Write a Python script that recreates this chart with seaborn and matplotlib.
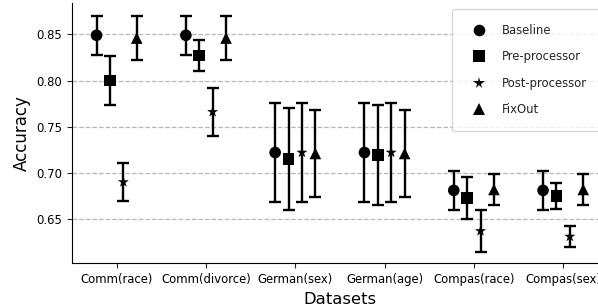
import matplotlib
matplotlib.use("Agg")
import matplotlib.pyplot as plt
import seaborn as sns
import numpy as np
import pandas as pd

datasets = ["Comm(race)", "Comm(divorce)", "German(sex)", "German(age)", "Compas(race)", "Compas(sex)"]
methods = ["Baseline", "Pre-processor", "Post-processor", "FixOut"]

baseline_mean = [0.849, 0.849, 0.722, 0.722, 0.681, 0.681]
baseline_err = [0.021, 0.021, 0.0537, 0.0537, 0.021, 0.021]
pre_mean = [0.800, 0.827, 0.715, 0.719, 0.673, 0.675]
pre_err = [0.0265, 0.0165, 0.055, 0.054, 0.023, 0.0145]
post_mean = [0.690, 0.766, 0.722, 0.722, 0.637, 0.631]
post_err = [0.021, 0.026, 0.0537, 0.0537, 0.0225, 0.011]
fixout_mean = [0.846, 0.846, 0.721, 0.721, 0.682, 0.682]
fixout_err = [0.0235, 0.0235, 0.047, 0.047, 0.0165, 0.0165]

means = [baseline_mean, pre_mean, post_mean, fixout_mean]
errs = [baseline_err, pre_err, post_err, fixout_err]

offsets = [-0.225, -0.075, 0.075, 0.225]
marker_map = {"Baseline": "o", "Pre-processor": "s", "Post-processor": "*", "FixOut": "^"}

rows = []
for mi, m in enumerate(methods):
    for di, d in enumerate(datasets):
        rows.append({"dataset": d, "method": m, "x": di + offsets[mi],
                     "acc": means[mi][di], "err": errs[mi][di]})
df = pd.DataFrame(rows)

sns.set_style("ticks", {"axes.grid": True, "grid.linestyle": "--"})
plt.rcParams["font.family"] = ["DejaVu Sans"]

fig = plt.figure(figsize=(5.98, 3.07), dpi=100)
ax = fig.add_axes([0.1204, 0.1423, 0.896, 0.848])

for m in methods:
    sub = df[df["method"] == m]
    ax.errorbar(sub["x"], sub["acc"], yerr=sub["err"], fmt="none",
                ecolor="black", elinewidth=1.7, capsize=4.3, capthick=1.7, zorder=2)

sns.scatterplot(data=df, x="x", y="acc", style="method", markers=marker_map,
                style_order=methods, color="black", s=70, linewidth=0,
                ax=ax, zorder=3, legend=True)

handles, labels = ax.get_legend_handles_labels()
ax.legend(handles, labels, loc="upper right", fontsize=8.4, borderpad=1.3,
          labelspacing=1.15, handletextpad=0.93, title=None, frameon=True)

ax.set_xticks(range(len(datasets)))
ax.set_xticklabels(datasets, fontsize=8.4, color="black")
ax.tick_params(axis="y", labelsize=8.4, labelcolor="black")
ax.set_xlim(-0.5, len(datasets) - 0.5)
ax.set_yticks([0.65, 0.70, 0.75, 0.80, 0.85])
ax.set_yticklabels(["0.65", "0.70", "0.75", "0.80", "0.85"])
ax.set_ylim(0.602, 0.884)
ax.grid(axis="x", visible=False)
ax.grid(axis="y", color="#b8b8b8", linestyle="--", linewidth=0.9)
ax.set_xlabel("Datasets", fontsize=11.8, color="black")
ax.set_ylabel("Accuracy", fontsize=12, color="black")
for s in ["left", "bottom"]:
    ax.spines[s].set_color("black")
sns.despine(ax=ax)

fig.savefig("out.png", dpi=100)
